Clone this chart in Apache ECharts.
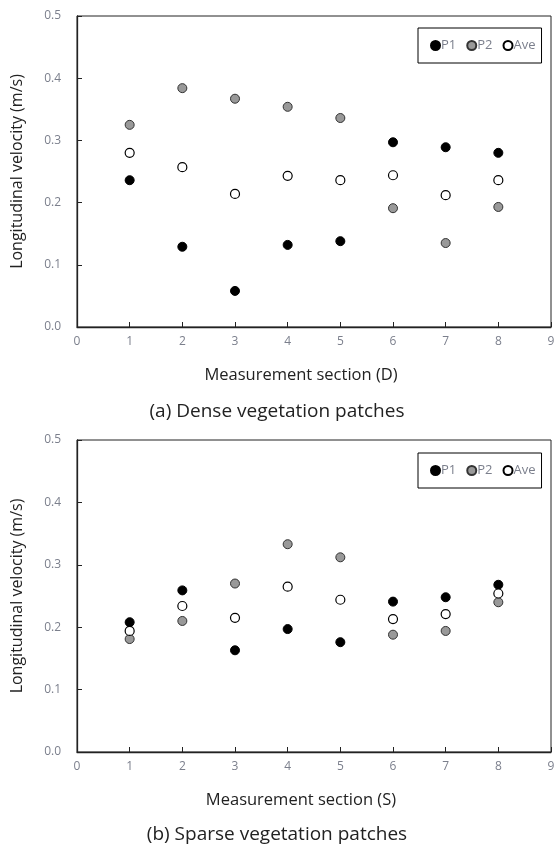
<!DOCTYPE html>
<html>
<head>
<meta charset="utf-8">
<script src="https://cdn.jsdelivr.net/npm/echarts@6/dist/echarts.min.js"></script>
<style>
  html, body { margin: 0; padding: 0; background: #fff; }
  #chart { width: 554px; height: 847px; }
</style>
</head>
<body>
<div id="chart"></div>
<script>
// measurement sections 1..8
const sections = [1, 2, 3, 4, 5, 6, 7, 8]

// (a) dense vegetation patches
const denseP1 = [0.236, 0.129, 0.058, 0.132, 0.138, 0.297, 0.289, 0.280]
const denseP2 = [0.325, 0.384, 0.367, 0.354, 0.336, 0.191, 0.135, 0.193]
const denseAve = [0.280, 0.257, 0.214, 0.243, 0.236, 0.244, 0.212, 0.236]

// (b) sparse vegetation patches
const sparseP1 = [0.208, 0.259, 0.163, 0.197, 0.176, 0.241, 0.248, 0.268]
const sparseP2 = [0.181, 0.210, 0.270, 0.333, 0.312, 0.188, 0.194, 0.240]
const sparseAve = [0.194, 0.234, 0.215, 0.265, 0.244, 0.213, 0.221, 0.254]

const seriesNames = ['P1', 'P2', 'Ave']
const captions = ['(a) Dense vegetation patches', '(b) Sparse vegetation patches']
const xTitles = ['Measurement section (D)', 'Measurement section (S)']
const yTitle = 'Longitudinal velocity (m/s)'

const font = '"Open Sans", "Noto Sans", sans-serif'
const labelColor = '#7b7f8c'
const markStyles = {
  P1: { color: '#000', borderColor: '#000', borderWidth: 1, opacity: 1 },
  P2: { color: '#999', borderColor: '#333', borderWidth: 1, opacity: 1 },
  Ave: { color: '#fff', borderColor: '#000', borderWidth: 1.2, opacity: 1 },
}

const grids = [
  { left: 77, right: 3, top: 16, height: 311 },
  { left: 77, right: 3, top: 440, height: 312 },
]

function pairs(ys) {
  return sections.map((x, i) => [x, ys[i]])
}

function xAxisFor(idx) {
  return {
    gridIndex: idx,
    type: 'value',
    min: 0,
    max: 9,
    interval: 1,
    name: xTitles[idx],
    nameLocation: 'middle',
    nameGap: 40,
    nameTextStyle: { color: '#222', fontSize: 16.5, fontFamily: font, padding: [0, 26, 0, 0] },
    axisLine: { lineStyle: { color: '#222', width: 1.3 } },
    axisTick: { inside: true, length: 5, lineStyle: { color: '#222' } },
    axisLabel: { color: labelColor, fontSize: 12, fontFamily: font, margin: 9 },
    splitLine: { show: false },
  }
}

function yAxisFor(idx) {
  return {
    gridIndex: idx,
    type: 'value',
    min: 0,
    max: 0.5,
    interval: 0.1,
    name: yTitle,
    nameLocation: 'middle',
    nameGap: 52,
    nameTextStyle: { color: '#222', fontSize: 16, fontFamily: font },
    axisLine: { show: true, lineStyle: { color: '#222', width: 1.3 } },
    axisTick: { show: true, inside: true, length: 5, lineStyle: { color: '#222' } },
    axisLabel: {
      color: labelColor, fontSize: 12, fontFamily: font, margin: 16,
      formatter: (v) => v.toFixed(1),
    },
    splitLine: { show: false },
  }
}

const allData = [
  [denseP1, denseP2, denseAve],
  [sparseP1, sparseP2, sparseAve],
]

const series = []
allData.forEach((group, g) => {
  group.forEach((ys, k) => {
    const name = seriesNames[k]
    series.push({
      name,
      type: 'scatter',
      xAxisIndex: g,
      yAxisIndex: g,
      symbol: 'circle',
      symbolSize: 9,
      itemStyle: markStyles[name],
      data: pairs(ys),
      z: k === 2 ? 3 : 2,
    })
  })
})

function legendFor(top) {
  return {
    left: 418,
    top,
    data: seriesNames,
    orient: 'horizontal',
    icon: 'circle',
    itemWidth: 9,
    itemHeight: 9,
    itemGap: 10,
    padding: [11, 6, 11, 12],
    borderColor: '#000',
    borderWidth: 1,
    selectedMode: false,
    textStyle: { color: labelColor, fontSize: 13, fontFamily: font, padding: [0, 0, 0, -4] },
  }
}

const chart = echarts.init(document.getElementById('chart'), null, { renderer: 'canvas' })
chart.setOption({
  animation: false,
  backgroundColor: '#fff',
  title: [
    { text: captions[0], left: 'center', top: 397, textStyle: { color: '#222', fontSize: 19, fontWeight: 'normal', fontFamily: font } },
    { text: captions[1], left: 'center', top: 820, textStyle: { color: '#222', fontSize: 19, fontWeight: 'normal', fontFamily: font } },
  ],
  legend: [legendFor(28), legendFor(453)],
  grid: grids.map((g) => ({ ...g, show: true, borderColor: '#222', borderWidth: 1, outerBoundsMode: 'none' })),
  xAxis: [xAxisFor(0), xAxisFor(1)],
  yAxis: [yAxisFor(0), yAxisFor(1)],
  series,
})
</script>
</body>
</html>
